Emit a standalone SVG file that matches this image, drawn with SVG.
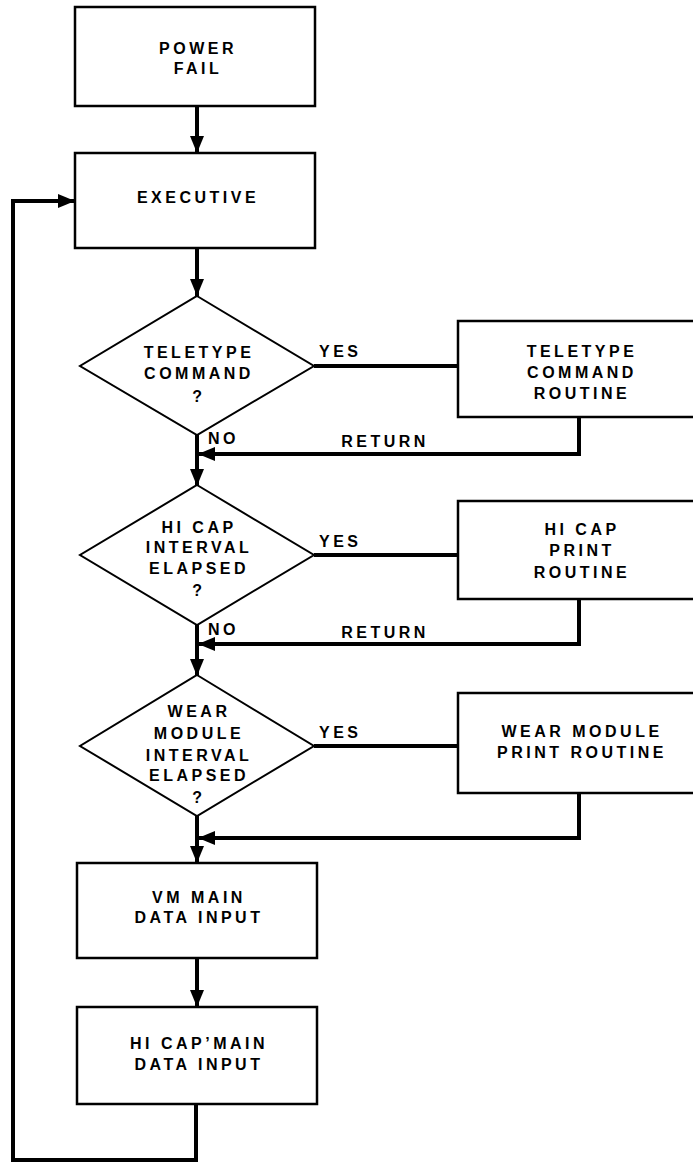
<svg xmlns="http://www.w3.org/2000/svg" width="693" height="1165" viewBox="0 0 693 1165">
<style>
.box{fill:#fff;stroke:#000;stroke-width:2.5}
.dia{fill:#fff;stroke:#000;stroke-width:2}
.con{fill:none;stroke:#000;stroke-width:4}
.t{font-family:"Liberation Sans",Arial,sans-serif;font-size:16px;font-weight:bold;letter-spacing:3.5px;fill:#000;text-anchor:middle}
.l{font-family:"Liberation Sans",Arial,sans-serif;font-size:16px;font-weight:bold;letter-spacing:3.5px;fill:#000}
</style>
<defs>
<marker id="ah" markerUnits="userSpaceOnUse" markerWidth="17" markerHeight="14" refX="17" refY="7" orient="auto">
<path d="M0,0 L17,7 L0,14 z" fill="#000"/>
</marker>
</defs>
<rect width="693" height="1165" fill="#fff"/>
<g id="connectors">
<path class="con" d="M197,106 V153" marker-end="url(#ah)"/>
<path class="con" d="M197,248 V296" marker-end="url(#ah)"/>
<path class="con" d="M314,366 H458"/>
<path class="con" d="M579,417 V454 H198" marker-end="url(#ah)"/>
<path class="con" d="M197,435 V486" marker-end="url(#ah)"/>
<path class="con" d="M314,555 H458"/>
<path class="con" d="M579,599 V644 H198" marker-end="url(#ah)"/>
<path class="con" d="M197,625 V676" marker-end="url(#ah)"/>
<path class="con" d="M314,746 H458"/>
<path class="con" d="M579,793 V838 H198" marker-end="url(#ah)"/>
<path class="con" d="M197,816 V863" marker-end="url(#ah)"/>
<path class="con" d="M197,958 V1007" marker-end="url(#ah)"/>
<path class="con" d="M196,1104 V1160 H13 V201 H75" marker-end="url(#ah)"/>
<text class="l" x="319" y="357">YES</text>
<text class="l" x="208" y="444">NO</text>
<text class="t" x="385" y="447">RETURN</text>
<text class="l" x="319" y="547">YES</text>
<text class="l" x="208" y="635">NO</text>
<text class="t" x="385" y="638">RETURN</text>
<text class="l" x="319" y="738">YES</text>
</g>
<g id="power-fail">
<rect class="box" x="75" y="7" width="240" height="99"/>
<text class="t" x="198" y="54">POWER</text>
<text class="t" x="198" y="74">FAIL</text>
</g>
<g id="executive">
<rect class="box" x="75" y="153" width="240" height="95"/>
<text class="t" x="198" y="203">EXECUTIVE</text>
</g>
<g id="teletype-command">
<polygon class="dia" points="197,296 314,366 197,435 80,366"/>
<text class="t" x="199" y="358">TELETYPE</text>
<text class="t" x="199" y="379">COMMAND</text>
<text class="t" x="199" y="402">?</text>
</g>
<g id="teletype-routine">
<rect class="box" x="458" y="321" width="250" height="96"/>
<text class="t" x="582" y="357">TELETYPE</text>
<text class="t" x="582" y="378">COMMAND</text>
<text class="t" x="582" y="399">ROUTINE</text>
</g>
<g id="hicap-interval">
<polygon class="dia" points="197,485 314,555 197,625 80,555"/>
<text class="t" x="199" y="533">HI CAP</text>
<text class="t" x="199" y="553">INTERVAL</text>
<text class="t" x="199" y="574">ELAPSED</text>
<text class="t" x="199" y="596">?</text>
</g>
<g id="hicap-print">
<rect class="box" x="458" y="501" width="250" height="98"/>
<text class="t" x="582" y="535">HI CAP</text>
<text class="t" x="582" y="556">PRINT</text>
<text class="t" x="582" y="578">ROUTINE</text>
</g>
<g id="wear-interval">
<polygon class="dia" points="197,675 314,746 197,816 80,746"/>
<text class="t" x="199" y="717">WEAR</text>
<text class="t" x="199" y="739">MODULE</text>
<text class="t" x="199" y="761">INTERVAL</text>
<text class="t" x="199" y="781">ELAPSED</text>
<text class="t" x="199" y="803">?</text>
</g>
<g id="wear-print">
<rect class="box" x="458" y="693" width="250" height="100"/>
<text class="t" x="582" y="737">WEAR MODULE</text>
<text class="t" x="582" y="758">PRINT ROUTINE</text>
</g>
<g id="vm-main">
<rect class="box" x="77" y="863" width="240" height="95"/>
<text class="t" x="199" y="903">VM MAIN</text>
<text class="t" x="199" y="923">DATA INPUT</text>
</g>
<g id="hicap-main">
<rect class="box" x="77" y="1007" width="240" height="97"/>
<text class="t" x="199" y="1049">HI CAP’MAIN</text>
<text class="t" x="199" y="1070">DATA INPUT</text>
</g>
</svg>
